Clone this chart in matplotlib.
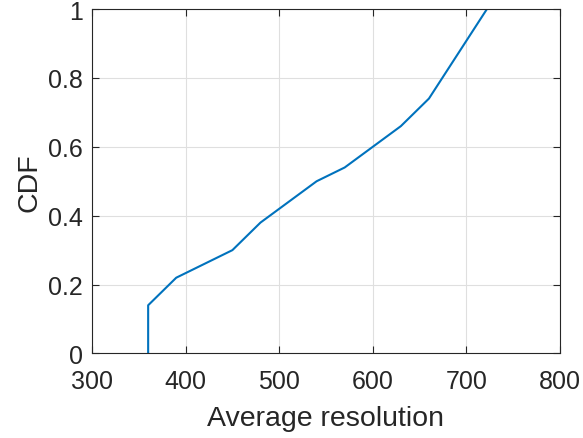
import matplotlib
matplotlib.use('Agg')
import matplotlib.pyplot as plt
import numpy as np

# Data
resolution = [360, 360, 390, 450, 480, 540, 570, 630, 660, 722]
cdf = [0.0, 0.14, 0.22, 0.30, 0.38, 0.50, 0.54, 0.66, 0.74, 1.0]
xticks = [300, 400, 500, 600, 700, 800]
yticks = [0, 0.2, 0.4, 0.6, 0.8, 1]
ytick_labels = ['0', '0.2', '0.4', '0.6', '0.8', '1']

plt.rcParams['font.family'] = ['Liberation Sans', 'DejaVu Sans']
axcol = '#262626'

fig = plt.figure(figsize=(5.83, 4.39), dpi=100)
ax = fig.add_axes([0.1578, 0.1925, 0.8027, 0.7847])

ax.plot(resolution, cdf, color='#0072BD', linewidth=1.5)

ax.set_xlim(300, 800)
ax.set_ylim(0, 1)
ax.set_xticks(xticks)
ax.set_yticks(yticks)
ax.set_yticklabels(ytick_labels)

ax.grid(True, color='#dfdfdf', linewidth=0.8)
ax.set_axisbelow(True)
for s in ax.spines.values():
    s.set_color(axcol)
    s.set_linewidth(0.8)
ax.tick_params(direction='in', top=True, right=True, length=5, width=0.8,
               colors=axcol, labelsize=18)
ax.tick_params(axis='x', pad=11)
ax.tick_params(axis='y', pad=6.5)

ax.set_xlabel('Average resolution', fontsize=20.5, color=axcol, labelpad=9)
ax.set_ylabel('CDF', fontsize=20.5, color=axcol, labelpad=4)

plt.savefig('out.png', dpi=100)
